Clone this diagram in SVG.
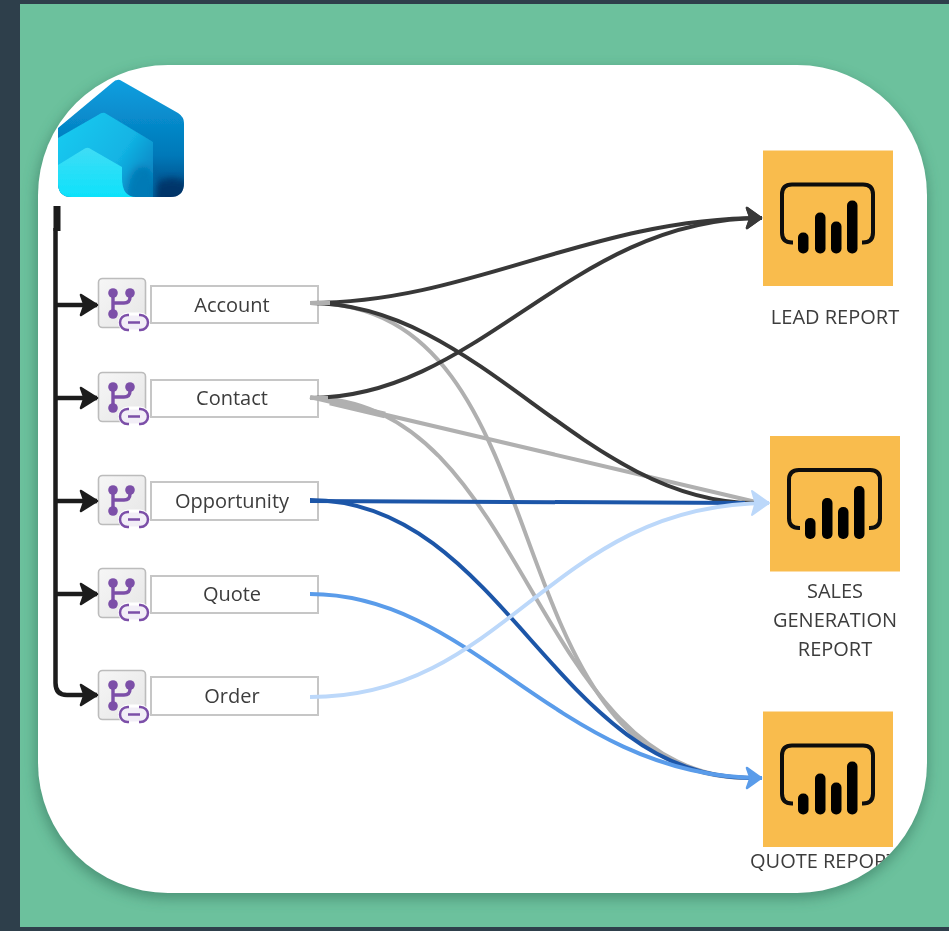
<svg xmlns="http://www.w3.org/2000/svg" xmlns:xlink="http://www.w3.org/1999/xlink" width="949" height="931" viewBox="0 0 949 931">
<style>
text{font-family:"Open Sans","Noto Sans","Liberation Sans",sans-serif;font-size:20px;fill:#3c3c3c;text-anchor:middle}
.box{fill:#fff;stroke:#c6c6c6;stroke-width:2}
.c{fill:none;stroke-width:4}
.dk{stroke:#383838}.gr{stroke:#b0b0b0}.bl{stroke:#1f56a8}.md{stroke:#5a9cea}.lt{stroke:#bcd8fa}
.tr{fill:none;stroke:#1c1c1c;stroke-width:4.500}
.tile{fill:#f9bc4e}
</style>
<defs>
<filter id="shadow" x="-10%" y="-10%" width="120%" height="120%"><feGaussianBlur stdDeviation="7"/></filter>
<filter id="soft" x="-2%" y="-2%" width="104%" height="104%"><feGaussianBlur stdDeviation="0.5"/></filter>
<filter id="softer" x="-20%" y="-20%" width="140%" height="140%"><feGaussianBlur stdDeviation="3"/></filter>
<clipPath id="panelClip"><rect x="38" y="65" width="889" height="828" rx="130"/></clipPath>
<clipPath id="houseClip"><path d="M120 80L178 113Q184 117 184 123V183Q184 197 170 197H72Q58 197 58 183V128L112 83Q116 79 120 80Z"/></clipPath>
<linearGradient id="hOuter" x1="0" y1="0" x2="0" y2="1"><stop offset="0" stop-color="#0c9fe0"/><stop offset="0.65" stop-color="#0278b8"/><stop offset="1" stop-color="#01447e"/></linearGradient>
<linearGradient id="hMid" x1="0" y1="0" x2="1" y2="0.6"><stop offset="0" stop-color="#18cdf2"/><stop offset="0.7" stop-color="#12b4e4"/><stop offset="1" stop-color="#0a8cc8"/></linearGradient>
<linearGradient id="hIn" x1="0" y1="0" x2="0" y2="1"><stop offset="0" stop-color="#3fdcf5"/><stop offset="1" stop-color="#0ee2fb"/></linearGradient>
<marker id="aK" markerUnits="userSpaceOnUse" markerWidth="24" markerHeight="28" refX="19" refY="14" orient="auto"><path d="M3 4L19 14L3 24L6.500 14Z" fill="#1c1c1c" stroke="#1c1c1c" stroke-width="2.500" stroke-linejoin="round"/></marker>
<marker id="aD" markerUnits="userSpaceOnUse" markerWidth="24" markerHeight="28" refX="18" refY="14" orient="auto"><path d="M3 4L17 14L3 24L6.500 14Z" fill="#383838" stroke="#383838" stroke-width="2.500" stroke-linejoin="round"/></marker>
<marker id="aL" markerUnits="userSpaceOnUse" markerWidth="24" markerHeight="32" refX="19" refY="16" orient="auto"><path d="M2 4L19 16L2 28L5.500 16Z" fill="#bcd8fa" stroke="#bcd8fa" stroke-width="2" stroke-linejoin="round"/></marker>
<marker id="aB" markerUnits="userSpaceOnUse" markerWidth="24" markerHeight="28" refX="18" refY="14" orient="auto"><path d="M3 4L17 14L3 24L6.500 14Z" fill="#5a9cea" stroke="#5a9cea" stroke-width="2.500" stroke-linejoin="round"/></marker>
<linearGradient id="iconBg" x1="0" y1="0" x2="1" y2="1"><stop offset="0" stop-color="#f6f6f6"/><stop offset="1" stop-color="#e6e6e6"/></linearGradient>
<g id="flow">
<rect x="0.500" y="0.500" width="47" height="49" rx="4" fill="url(#iconBg)" stroke="#bcbcbc" stroke-width="1.600"/>
<path d="M15 15V36M32 15V19Q32 25 26 25H15" fill="none" stroke="#7c4fa8" stroke-width="3.400"/>
<circle cx="15" cy="15" r="4.800" fill="#7c4fa8"/><circle cx="32" cy="15" r="4.800" fill="#7c4fa8"/><circle cx="15" cy="36" r="4.800" fill="#7c4fa8"/>
<rect x="21.500" y="36" width="29" height="17" rx="8.500" fill="#f2eef7" stroke="#fff" stroke-width="3"/>
<path d="M31 37H29.500a7.500 7.500 0 0 0 0 15H31M41 37H42.500a7.500 7.500 0 0 1 0 15H41M30 44.500H42" fill="none" stroke="#7c4fa8" stroke-width="2.500"/>
</g>
<g id="pbi">
<rect width="130" height="135.500" class="tile"/>
<path d="M30 92H29Q19 92 19 82V44Q19 34 29 34H100Q110 34 110 44V82Q110 92 100 92H99" fill="none" stroke="#0a0a0a" stroke-width="4"/>
<rect x="35" y="82" width="10.500" height="21" rx="5" fill="#000"/>
<rect x="52" y="62" width="10.500" height="41" rx="5" fill="#000"/>
<rect x="68" y="71" width="10.500" height="32" rx="5" fill="#000"/>
<rect x="84" y="50" width="10.500" height="53" rx="5" fill="#000"/>
</g>
</defs>

<rect width="949" height="931" fill="#2e3f4b"/>
<rect x="20" y="4" width="929" height="923" fill="#6cc19d"/>
<rect x="36" y="70" width="891" height="828" rx="130" fill="#2d6b54" opacity="0.55" filter="url(#shadow)"/>
<rect x="38" y="65" width="889" height="828" rx="130" fill="#fff"/>

<g clip-path="url(#panelClip)">
<g filter="url(#soft)">
<g id="house">
<path d="M120 80L178 113Q184 117 184 123V183Q184 197 170 197H72Q58 197 58 183V128L112 83Q116 79 120 80Z" fill="url(#hOuter)"/>
<path d="M105 113L153 142V197H72Q58 197 58 183V138L98 115Q102 112 105 113Z" fill="url(#hMid)"/>
<g clip-path="url(#houseClip)"><ellipse cx="172" cy="192" rx="18" ry="14" fill="#012f60" opacity="0.75" filter="url(#softer)"/><ellipse cx="142" cy="190" rx="14" ry="24" fill="#0572ae" opacity="0.7" filter="url(#softer)"/></g>
<path d="M89 148L122 167V178Q122 197 136 197H72Q58 197 58 183V165L84 149Q87 147 89 148Z" fill="url(#hIn)"/>
</g>

<g id="node-account"><rect class="box" x="151" y="286" width="167" height="37"/><use href="#flow" x="98" y="278"/><text x="232" y="312">Account</text></g>
<g id="node-contact"><rect class="box" x="151" y="380" width="167" height="37"/><use href="#flow" x="98" y="372"/><text x="232" y="405">Contact</text></g>
<g id="node-opportunity"><rect class="box" x="151" y="482" width="167" height="38"/><use href="#flow" x="98" y="475"/><text x="232" y="508">Opportunity</text></g>
<g id="node-quote"><rect class="box" x="151" y="576" width="167" height="37"/><use href="#flow" x="98" y="568"/><text x="232" y="601">Quote</text></g>
<g id="node-order"><rect class="box" x="151" y="677" width="167" height="38"/><use href="#flow" x="98" y="670"/><text x="232" y="703">Order</text></g>

<g id="report-lead"><use href="#pbi" x="763" y="150.500"/><text x="835" y="324">LEAD REPORT</text></g>
<g id="report-sales"><use href="#pbi" x="770" y="436"/><text x="835" y="598">SALES</text><text x="835" y="627">GENERATION</text><text x="835" y="656">REPORT</text></g>
<g id="report-quote"><use href="#pbi" x="763" y="711.500"/><text x="750" y="868" style="text-anchor:start">QUOTE REPORT</text></g>

<g id="connectors">
<path class="c gr" d="M310 303C573 303 482 778 750 778"/>
<path class="c gr" d="M310 398C528 398 532 778 750 778"/>
<path class="c gr" d="M310 397L756 502"/>
<path class="c gr" style="stroke-width:6.500" d="M330 402L385 415"/>
<path class="c dk" d="M310 303C470 303 590 218 762 218" marker-end="url(#aD)"/>
<path class="c dk" d="M310 398C480 398 570 218 762 218" marker-end="url(#aD)"/>
<path class="c dk" d="M310 303C480 303 584 503 755 503"/>
<path class="c gr" d="M310 303H330"/>
<path class="c gr" d="M310 398H328"/>
<path class="c bl" d="M310 501L745 503"/>
<path class="c bl" d="M310 500C503 500 557 778 750 778"/>
<path class="c md" d="M310 594C476 594 559 778 762 778" marker-end="url(#aB)"/>
<path class="c lt" d="M310 697C509 697 550 503 769 503" marker-end="url(#aL)"/>
<path class="tr" style="stroke-width:7" d="M57 206V231"/>
<path class="tr" d="M55.500 228V683Q55.500 695 67 695H97" marker-end="url(#aK)"/>
<path class="tr" d="M55 305H97" marker-end="url(#aK)"/>
<path class="tr" d="M55 398H97" marker-end="url(#aK)"/>
<path class="tr" d="M55 501H97" marker-end="url(#aK)"/>
<path class="tr" d="M55 594H97" marker-end="url(#aK)"/>
</g>
</g>
</g>
</svg>
